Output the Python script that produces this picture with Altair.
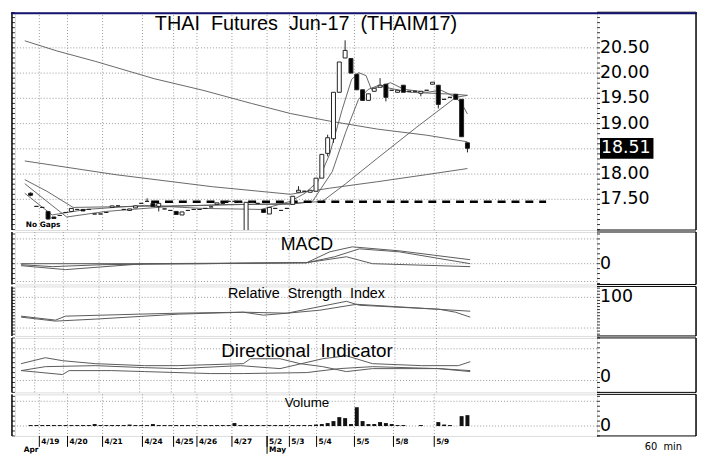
import numpy as np
import pandas as pd
import altair as alt

# ------------------------------------------------------------------ data
chart_title = "THAI \u00a0Futures \u00a0Jun-17 \u00a0(THAIM17)"
last_price = 18.51

bar_open = [17.62, 17.36, 17.34, 17.26, 17.15, 17.18, 17.24, 17.26, 17.30, 17.30,
            17.30, 17.21, 17.21, 17.24, 17.34, 17.37, 17.30, 17.28, 17.33, 17.42,
            17.46, 17.42, 17.36, 17.31, 17.28, 17.26, 17.19, 17.28, 17.30, 17.30,
            17.32, 17.35, 17.40, 17.42, 17.46, 17.46, 17.44, 16.80, 17.44, 17.42,
            17.30, 17.21, 17.32, 17.28, 17.32, 17.40, 17.64, 17.66, 17.64, 17.66,
            17.92, 18.41, 18.70, 19.62, 20.30, 20.29, 19.98, 19.67, 19.46, 19.64,
            19.72, 19.78, 19.66, 19.62, 19.76, 19.64, 19.64, 19.60, 19.66, 19.78,
            19.76, 19.48, 19.52, 19.58, 19.48, 18.62]
bar_high = [17.64, 17.36, 17.34, 17.27, 17.15, 17.18, 17.24, 17.32, 17.30, 17.30,
            17.30, 17.21, 17.21, 17.24, 17.37, 17.37, 17.30, 17.31, 17.37, 17.42,
            17.52, 17.42, 17.42, 17.31, 17.28, 17.26, 17.25, 17.28, 17.30, 17.30,
            17.32, 17.35, 17.43, 17.42, 17.46, 17.46, 17.44, 17.44, 17.44, 17.42,
            17.30, 17.34, 17.32, 17.28, 17.32, 17.56, 17.76, 17.66, 17.68, 17.92,
            18.39, 18.78, 19.62, 20.22, 20.65, 20.29, 19.98, 19.67, 19.59, 19.70,
            19.90, 19.78, 19.66, 19.66, 19.76, 19.64, 19.64, 19.64, 19.66, 19.82,
            19.76, 19.48, 19.52, 19.58, 19.48, 18.62]
bar_low = [17.56, 17.36, 17.34, 17.10, 17.12, 17.18, 17.24, 17.26, 17.30, 17.27,
           17.30, 17.21, 17.21, 17.24, 17.34, 17.37, 17.30, 17.28, 17.33, 17.42,
           17.46, 17.36, 17.26, 17.31, 17.28, 17.20, 17.19, 17.28, 17.30, 17.30,
           17.32, 17.35, 17.40, 17.42, 17.46, 17.46, 17.44, 16.80, 17.44, 17.42,
           17.24, 17.21, 17.32, 17.28, 17.32, 17.40, 17.64, 17.66, 17.64, 17.66,
           17.92, 18.35, 18.62, 19.62, 20.30, 20.00, 19.67, 19.45, 19.46, 19.64,
           19.72, 19.44, 19.66, 19.62, 19.62, 19.64, 19.64, 19.54, 19.66, 19.78,
           19.30, 19.48, 19.52, 19.48, 18.74, 18.43]
bar_close = [17.58, 17.36, 17.34, 17.11, 17.12, 17.18, 17.24, 17.32, 17.30, 17.27,
             17.30, 17.21, 17.21, 17.24, 17.37, 17.37, 17.30, 17.31, 17.37, 17.42,
             17.46, 17.36, 17.42, 17.31, 17.28, 17.20, 17.25, 17.28, 17.30, 17.30,
             17.32, 17.35, 17.43, 17.42, 17.46, 17.46, 17.44, 17.44, 17.44, 17.42,
             17.24, 17.34, 17.32, 17.28, 17.32, 17.56, 17.68, 17.66, 17.68, 17.92,
             18.39, 18.72, 19.62, 20.22, 20.45, 20.00, 19.67, 19.46, 19.59, 19.70,
             19.76, 19.52, 19.66, 19.66, 19.62, 19.64, 19.64, 19.64, 19.66, 19.82,
             19.38, 19.48, 19.52, 19.48, 18.74, 18.51]
volume = [1, 1, 1, 1, 1, 1, 1, 1, 1, 1,
          1, 2, 1, 1, 1, 1, 1, 1.5, 1, 1,
          1, 2, 1, 1, 1, 1, 1, 1, 1, 1,
          1, 1, 1, 1, 1, 3, 1, 1, 1, 1,
          1, 1, 1, 1, 1, 1, 1, 1, 1, 1.5,
          2, 3, 5, 9, 8, 2, 19, 5, 2, 2,
          4, 3, 2, 1, 1, 0, 0, 1, 0, 0,
          4, 1.5, 1, 0, 10, 11]

day_bounds = [1.5, 6.34, 12.36, 19.2, 24.55, 28.56, 34.57, 40.6, 44.43, 49.1, 55.6, 62.3, 69.3]
day_labels = ["4/19", "4/20", "4/21", "4/24", "4/25", "4/26", "4/27", "5/2", "5/3", "5/4", "5/5", "5/8", "5/9"]
month_pos = [-1.5, 40.6]
month_labels = ["Apr", "May"]

support_start, support_end, support_level = 20.7, 88.5, 17.45

ma_long_idx = [-1.0, 4.5, 11.2, 21.2, 29.6, 37.9, 44.6, 51.3, 59.6, 68.0, 75.0]
ma_long_val = [20.64, 20.44, 20.23, 19.89, 19.66, 19.40, 19.20, 19.05, 18.89, 18.77, 18.64]
ma_mid_idx = [-1.0, 14.5, 31.2, 44.6, 51.3, 59.6, 68.0, 75.0]
ma_mid_val = [18.26, 17.99, 17.75, 17.60, 17.72, 17.85, 17.99, 18.11]
ma_slow_idx = [-1.0, 2.8, 7.3, 18.4, 29.6, 45.1, 50.1, 54.1, 59.6, 66.3, 73.0, 75.0]
ma_slow_val = [17.89, 17.66, 17.34, 17.36, 17.38, 17.42, 17.46, 17.81, 18.32, 18.93, 19.52, 19.56]
ma_med_idx = [-1.0, 2.8, 6.2, 12.9, 24.1, 34.6, 44.6, 48.4, 51.8, 54.1, 56.3, 58.0, 59.6, 65.1, 73.0, 75.0]
ma_med_val = [17.81, 17.46, 17.15, 17.26, 17.36, 17.40, 17.40, 17.46, 18.05, 18.83, 19.48, 19.68, 19.75, 19.62, 19.58, 19.56]
ma_fast_idx = [-1.0, 3.7, 9.5, 19.5, 29.6, 39.6, 44.6, 47.1, 49.3, 51.3, 53.5, 55.1, 56.3, 57.6, 58.5, 60.8,
               61.8, 64.1, 68.0, 70.5, 73.0, 74.2, 75.0]
ma_fast_val = [17.62, 17.19, 17.30, 17.38, 17.32, 17.30, 17.46, 17.62, 17.85, 18.38, 19.28, 19.87, 20.01, 19.95,
               19.68, 19.77, 19.81, 19.68, 19.62, 19.66, 19.52, 19.36, 19.19]

macd1_idx = [-0.8, 6.7, 20.0, 29.6, 47.4, 51.3, 55.1, 63.0, 75.0]
macd1_val = [-0.02, -0.06, 0.0, 0.0, 0.01, 0.12, 0.17, 0.13, 0.04]
macd2_idx = [-0.8, 4.5, 12.9, 29.6, 47.4, 52.1, 56.3, 63.0, 75.0]
macd2_val = [-0.01, -0.03, -0.01, 0.0, 0.01, 0.07, 0.15, 0.12, 0.0]
macd3_idx = [-0.8, 20.0, 47.4, 54.1, 58.5, 75.0]
macd3_val = [0.0, 0.0, 0.01, 0.07, 0.0, -0.03]

rsi1_idx = [-0.8, 5.0, 6.7, 19.0, 25.7, 36.7, 40.1, 44.1, 47.4, 54.1, 56.3, 69.7, 72.5, 75.0]
rsi1_val = [38.7, 25.8, 38.7, 45.2, 48.4, 51.6, 41.9, 48.4, 61.3, 87.1, 74.2, 61.3, 51.6, 35.5]
rsi2_idx = [-0.8, 5.0, 11.7, 25.7, 36.7, 44.1, 49.6, 55.8, 64.1, 75.0]
rsi2_val = [35.5, 22.6, 29.0, 45.2, 51.6, 48.4, 58.1, 77.4, 67.7, 54.8]

di1_idx = [-0.8, 3.3, 6.2, 11.7, 20.0, 25.7, 36.7, 37.9, 42.9, 46.3, 50.1, 54.1, 58.5, 69.7, 75.0]
di1_val = [14, 20, 17, 14, 12, 12, 14, 19, 19, 14, 11, 6, 9, 9, 7]
di2_idx = [-0.8, 3.3, 11.7, 20.0, 25.7, 36.2, 42.9, 50.1, 54.1, 58.5, 66.8, 73.0, 75.0]
di2_val = [7, 11, 12, 10, 9, 12, 9, 19, 22, 14, 12, 12, 16]
di3_idx = [-0.8, 6.2, 7.3, 14.5, 20.0, 31.2, 36.7, 47.4, 52.9, 58.5, 69.7, 75.0]
di3_val = [7, 3, 7, 7, 6, 4, 4, 5, 9, 11, 9, 6]

price_grid = [17.5, 18.0, 18.5, 19.0, 19.5, 20.0, 20.5]
price_labels = [17.5, 18.0, 19.0, 19.5, 20.0, 20.5]
macd_grid = [0.25, 0.0, -0.18]
rsi_grid = [100, 0]
di_grid = [29, -3]
vol_grid = [25, 0]

# ------------------------------------------------------------------ helpers
W = 588
XS = alt.Scale(domain=[-1.84, 96.4], nice=False, zero=False)
GRID = dict(color="#9a9a9a", strokeDash=[1, 2], strokeWidth=1)
LINE_COLOR = "#585858"


def xq(field):
    return alt.X(f"{field}:Q", scale=XS, axis=None)


def tick_range(lo, hi, step):
    n = int(round((hi - lo) / step))
    return [round(lo + k * step, 4) for k in range(n + 1)]


def scale_marks(ys, tick_vals, label_vals, fmt):
    """Right/left minor ticks and right-hand value labels, drawn with the panel's y scale."""
    tdf = pd.DataFrame({"v": tick_vals})
    right = alt.Chart(tdf).mark_rule(color="#333", strokeWidth=1).encode(
        x=alt.value(W), x2=alt.value(W + 3), y=alt.Y("v:Q", scale=ys, axis=None))
    left = alt.Chart(tdf).mark_rule(color="#333", strokeWidth=1).encode(
        x=alt.value(-3), x2=alt.value(0), y=alt.Y("v:Q", scale=ys, axis=None))
    ldf = pd.DataFrame({"v": label_vals, "t": [format(v, fmt) for v in label_vals]})
    labels = alt.Chart(ldf).mark_text(
        align="left", baseline="middle", fontSize=17.5, font="DejaVu Sans", color="black"
    ).encode(x=alt.value(W + 3), y=alt.Y("v:Q", scale=ys, axis=None), text="t:N")
    return [right, left, labels]


def grid_layers(ys, vals):
    h = alt.Chart(pd.DataFrame({"v": vals})).mark_rule(**GRID).encode(
        y=alt.Y("v:Q", scale=ys, axis=None))
    v = alt.Chart(pd.DataFrame({"v": day_bounds})).mark_rule(**GRID).encode(x=xq("v"))
    return [h, v]


def frame_layers(H):
    b = alt.Chart(pd.DataFrame({"a": [0]}))
    return [
        b.mark_rule(color="black", strokeWidth=1).encode(
            x=alt.value(W), x2=alt.value(W + 100), y=alt.value(0)),
        b.mark_rule(color="black", strokeWidth=1).encode(
            x=alt.value(W), x2=alt.value(W + 100), y=alt.value(H)),
        b.mark_rule(color="black", strokeWidth=1.5).encode(
            x=alt.value(W + 100), y=alt.value(0), y2=alt.value(H)),
        b.mark_rule(color="black", strokeWidth=1.5).encode(
            x=alt.value(-3), y=alt.value(0), y2=alt.value(H)),
    ]


def text_layer(txt, x, y, size, font="Liberation Sans", align="center", **kw):
    return alt.Chart(pd.DataFrame({"t": [txt]})).mark_text(
        font=font, fontSize=size, align=align, baseline="middle", color="black", **kw
    ).encode(x=alt.value(x), y=alt.value(y), text="t:N")


def lines_layer(series, ys, color=LINE_COLOR, width=0.9):
    rows = []
    for name, (idx, val) in series.items():
        for a, b in zip(idx, val):
            rows.append({"i": a, "v": b, "s": name})
    return alt.Chart(pd.DataFrame(rows)).mark_line(
        color=color, strokeWidth=width, clip=True).encode(
        x=xq("i"), y=alt.Y("v:Q", scale=ys, axis=None), detail="s:N", order="i:Q")


# ------------------------------------------------------------------ price panel
PH = 220
PS = alt.Scale(domain=[16.892, 21.206], nice=False, zero=False)
ohlc = pd.DataFrame({"i": list(range(len(bar_open))), "o": bar_open, "h": bar_high,
                     "l": bar_low, "c": bar_close})
ohlc["dir"] = np.where(ohlc["c"] >= ohlc["o"], "up", "down")

wicks = alt.Chart(ohlc).mark_rule(color="#222", strokeWidth=1, clip=True).encode(
    x=xq("i"), y=alt.Y("l:Q", scale=PS, axis=None), y2="h:Q")
bodies = alt.Chart(ohlc).mark_bar(size=4, stroke="#222", strokeWidth=1, clip=True).encode(
    x=xq("i"), y=alt.Y("o:Q", scale=PS, axis=None), y2="c:Q",
    fill=alt.Fill("dir:N", scale=alt.Scale(domain=["up", "down"], range=["white", "black"]),
                  legend=None))
support = alt.Chart(pd.DataFrame({"a": [support_start], "b": [support_end],
                                  "v": [support_level]})).mark_rule(
    color="black", strokeWidth=2.5, strokeDash=[8, 6]).encode(
    x=xq("a"), x2="b:Q", y=alt.Y("v:Q", scale=PS, axis=None))
ma_lines = lines_layer({
    "long": (ma_long_idx, ma_long_val), "mid": (ma_mid_idx, ma_mid_val),
    "slow": (ma_slow_idx, ma_slow_val), "med": (ma_med_idx, ma_med_val),
    "fast": (ma_fast_idx, ma_fast_val)}, PS)
lp_df = pd.DataFrame({"v": [last_price], "t": [f"{last_price:.2f}"]})
lp_box = alt.Chart(lp_df).mark_rule(color="black", strokeWidth=21).encode(
    x=alt.value(W + 3), x2=alt.value(W + 57), y=alt.Y("v:Q", scale=PS, axis=None))
lp_txt = alt.Chart(lp_df).mark_text(color="white", fontSize=17.5, font="DejaVu Sans",
                                    align="left", baseline="middle").encode(
    x=alt.value(W + 4), y=alt.Y("v:Q", scale=PS, axis=None), text="t:N")
band = alt.Chart(pd.DataFrame({"a": [0]})).mark_rule(color="#14146e", strokeWidth=2).encode(
    x=alt.value(-4), x2=alt.value(W + 101), y=alt.value(1))

price_panel = alt.layer(
    *grid_layers(PS, price_grid), ma_lines, support, wicks, bodies,
    *scale_marks(PS, tick_range(16.9, 21.2, 0.1), price_labels, ".2f"),
    text_layer(chart_title, 294, 12, 20),
    text_layer("No Gaps", 11, 215, 7.5, font="DejaVu Sans", align="left", fontWeight="bold"),
    lp_box, lp_txt, *frame_layers(PH), band,
).properties(width=W, height=PH)

# ------------------------------------------------------------------ MACD
MH = 53
MS = alt.Scale(domain=[-0.21, 0.32], nice=False, zero=False)
macd_panel = alt.layer(
    *grid_layers(MS, macd_grid),
    lines_layer({"m1": (macd1_idx, macd1_val), "m2": (macd2_idx, macd2_val),
                 "m3": (macd3_idx, macd3_val)}, MS, color="#5a5a5a", width=1),
    *scale_marks(MS, tick_range(-0.2, 0.3, 0.05), [0], ".0f"),
    text_layer("MACD", 295, 13, 18),
    *frame_layers(MH),
).properties(width=W, height=MH)

# ------------------------------------------------------------------ RSI
RH = 50
RS = alt.Scale(domain=[-25.8, 135.5], nice=False, zero=False)
rsi_panel = alt.layer(
    *grid_layers(RS, rsi_grid),
    lines_layer({"r1": (rsi1_idx, rsi1_val), "r2": (rsi2_idx, rsi2_val)}, RS,
                color="#5a5a5a", width=1),
    *scale_marks(RS, tick_range(-20, 130, 10), [100], ".0f"),
    text_layer("Relative \u00a0Strength \u00a0Index", 294.5, 8, 14.5),
    *frame_layers(RH),
).properties(width=W, height=RH)

# ------------------------------------------------------------------ DI
DH = 55
DS = alt.Scale(domain=[-15, 40], nice=False, zero=False)
di_panel = alt.layer(
    *grid_layers(DS, di_grid),
    lines_layer({"d1": (di1_idx, di1_val), "d2": (di2_idx, di2_val),
                 "d3": (di3_idx, di3_val)}, DS, color="#5a5a5a", width=1),
    *scale_marks(DS, tick_range(-15, 40, 5), [0], ".0f"),
    text_layer("Directional \u00a0Indicator", 295, 13, 19),
    *frame_layers(DH),
).properties(width=W, height=DH)

# ------------------------------------------------------------------ Volume + date row
VH = 42
VS = alt.Scale(domain=[-10, 32], nice=False, zero=False)
vol_df = pd.DataFrame({"i": list(range(len(volume))), "v": volume})
vol_bars = alt.Chart(vol_df).mark_bar(size=4, color="#111").encode(
    x=xq("i"), y=alt.Y("v:Q", scale=VS, axis=None))
day_df = pd.DataFrame({"p": day_bounds, "t": day_labels})
day_ticks = alt.Chart(day_df).mark_rule(color="black", strokeWidth=1).encode(
    x=xq("p"), y=alt.value(VH), y2=alt.value(VH + 11))
day_text = alt.Chart(day_df).mark_text(
    fontSize=7.5, font="DejaVu Sans", fontWeight="bold", align="left", baseline="middle",
    dx=2, color="black").encode(x=xq("p"), y=alt.value(VH + 6), text="t:N")
month_df = pd.DataFrame({"p": month_pos, "t": month_labels})
months = alt.Chart(month_df).mark_text(fontSize=7.5, font="DejaVu Sans", fontWeight="bold",
                                       align="left", baseline="middle", dx=2).encode(
    x=xq("p"), y=alt.value(VH + 14), text="t:N")
month_tick = alt.Chart(month_df.iloc[1:]).mark_rule(color="black").encode(
    x=xq("p"), y=alt.value(VH), y2=alt.value(VH + 18))
vol_panel = alt.layer(
    *grid_layers(VS, vol_grid), vol_bars,
    *scale_marks(VS, tick_range(-10, 30, 5), [0], ".0f"),
    text_layer("Volume", 295, 9, 13.5),
    day_ticks, day_text, months, month_tick,
    text_layer("60 \u00a0min", W + 67, VH + 11, 10, font="DejaVu Sans"),
    *frame_layers(VH),
).properties(width=W, height=VH)

chart = alt.vconcat(
    price_panel, macd_panel, rsi_panel, di_panel, vol_panel, spacing=2, bounds="flush"
).properties(
    padding={"left": 1, "top": 0, "right": 0, "bottom": 0}
).configure_view(stroke="black", strokeWidth=1).configure(background="white")

chart.save("out.html", embed_options={"renderer": "svg", "actions": False})
